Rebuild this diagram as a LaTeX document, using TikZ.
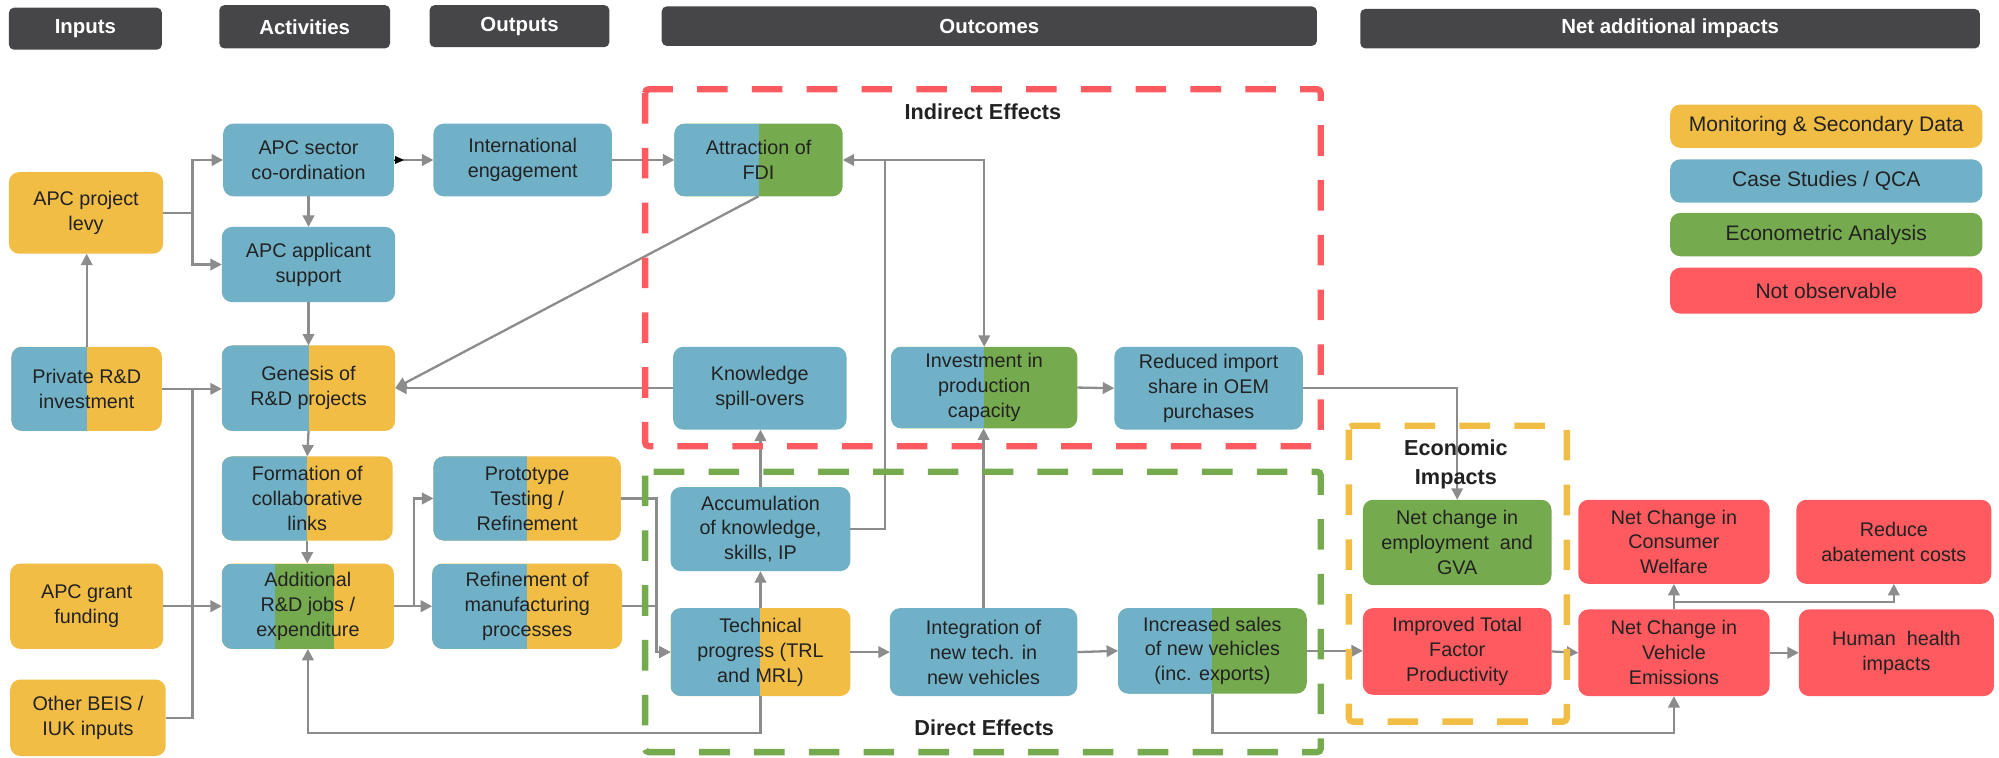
\documentclass[tikz,border=0pt]{standalone}
\usepackage{fontspec}
\setmainfont{Liberation Sans}
\usetikzlibrary{arrows.meta,calc}
\definecolor{cyel}{HTML}{F1BD45}
\definecolor{cblu}{HTML}{71B1C8}
\definecolor{cgrn}{HTML}{75AA4E}
\definecolor{cred}{HTML}{FE5A5F}
\definecolor{cdark}{HTML}{464648}
\definecolor{cline}{HTML}{8C8C8C}
\definecolor{ctext}{HTML}{222222}
\tikzset{
 box/.style={rounded corners=8pt, inner sep=1pt, outer sep=0pt, align=center, text=ctext, font=\fontsize{15.5}{19.5}\selectfont},
 yel/.style={fill=cyel}, blu/.style={fill=cblu}, grn/.style={fill=cgrn}, rd/.style={fill=cred},
 split/.style 2 args={fill=#2, path picture={\fill[#1, sharp corners] (path picture bounding box.south west) rectangle (path picture bounding box.north);}},
 tri/.style={fill=cyel, path picture={
   \fill[cblu, sharp corners] (path picture bounding box.south west) rectangle ($(path picture bounding box.north west)!0.311!(path picture bounding box.north east)$);
   \fill[cgrn, sharp corners] ($(path picture bounding box.south west)!0.311!(path picture bounding box.south east)$) rectangle ($(path picture bounding box.north west)!0.652!(path picture bounding box.north east)$);}},
 lgd/.style={font=\fontsize{16.5}{19.5}\selectfont},
 hdr/.style={fill=cdark, rounded corners=4pt, inner sep=0pt, text=white, font=\fontsize{16}{19}\selectfont\bfseries},
 conn/.style={draw=cline, line width=1.8pt},
 arr/.style={conn, -{Triangle[length=9pt,width=9pt]}},
 dbox/.style={line width=5pt, dash pattern=on 24pt off 19pt, rounded corners=3pt},
 lbl/.style={font=\fontsize{17}{23}\selectfont\bfseries, text=ctext, align=center, inner sep=0pt},
}
\newcommand\placebox[7]{%
 \pgfmathsetmacro\pbw{#4-#2}\pgfmathsetmacro\pbh{#5-#3}%
 \pgfmathsetmacro\pbx{(#2+#4)/2}\pgfmathsetmacro\pby{(#3+#5)/2}%
 \node[box,#6,minimum width=\pbw pt,minimum height=\pbh pt] (#1) at (\pbx,\pby) {#7};}
\newcommand\placehdr[6]{%
 \pgfmathsetmacro\pbw{#4-#2}\pgfmathsetmacro\pbh{#5-#3}%
 \pgfmathsetmacro\pbx{(#2+#4)/2}\pgfmathsetmacro\pby{(#3+#5)/2}%
 \node[hdr,minimum width=\pbw pt,minimum height=\pbh pt] (#1) at (\pbx,\pby) {#6};}
\begin{document}
\begin{tikzpicture}[x=1pt,y=-1pt]
\useasboundingbox (0,0) rectangle (1568,594);
% headers
\placehdr{hin}{7}{6}{127}{39}{Inputs}
\placehdr{hact}{172}{4}{306}{38}{Activities}
\placehdr{hout}{337}{4}{478}{37}{Outputs}
\placehdr{hoc}{519}{5}{1033}{36}{Outcomes}
\placehdr{hnet}{1067}{7}{1553}{38}{Net additional impacts}
% legend
\placebox{lg1}{1310}{82}{1555}{116}{yel,lgd}{Monitoring \& Secondary Data}
\placebox{lg2}{1310}{125}{1555}{159}{blu,lgd}{Case Studies / QCA}
\placebox{lg3}{1310}{167}{1555}{201}{grn,lgd}{Econometric Analysis}
\placebox{lg4}{1310}{210}{1555}{246}{rd,lgd}{Not observable}
% inputs
\placebox{levy}{7}{135}{128}{199}{yel}{APC project\\levy}
\placebox{priv}{9}{272}{127}{338}{split={cblu}{cyel}}{Private R\&D\\investment}
\placebox{grant}{8}{442}{128}{509}{yel}{APC grant\\funding}
\placebox{beis}{8}{533}{130}{593}{yel}{Other BEIS /\\IUK inputs}
% activities
\placebox{sector}{175}{97}{309}{154}{blu}{APC sector\\co-ordination}
\placebox{support}{174}{178}{310}{237}{blu}{APC applicant\\support}
\placebox{gen}{174}{271}{310}{338}{split={cblu}{cyel}}{Genesis of\\R\&D projects}
\placebox{form}{174}{358}{308}{424}{split={cblu}{cyel}}{Formation of\\collaborative\\links}
\placebox{add}{174}{442}{309}{509}{tri}{Additional\\R\&D jobs /\\expenditure}
% outputs
\placebox{intl}{340}{97}{480}{154}{blu}{International\\engagement}
\placebox{proto}{340}{358}{487}{424}{split={cblu}{cyel}}{Prototype\\Testing /\\Refinement}
\placebox{refm}{339}{442}{488}{509}{split={cblu}{cyel}}{Refinement of\\manufacturing\\processes}
% outcomes
\placebox{fdi}{529}{97}{661}{154}{split={cblu}{cgrn}}{Attraction of\\FDI}
\placebox{spill}{528}{272}{664}{337}{blu}{Knowledge\\spill-overs}
\placebox{invest}{699}{272}{845}{336}{split={cblu}{cgrn}}{Investment in\\production\\capacity}
\placebox{reduced}{874}{272}{1022}{337}{blu}{Reduced import\\share in OEM\\purchases}
\placebox{accum}{526}{382}{667}{448}{blu}{Accumulation\\of knowledge,\\skills, IP}
\placebox{tech}{526}{477}{667}{546}{split={cblu}{cyel}}{Technical\\progress (TRL\\and MRL)}
\placebox{integ}{698}{477}{845}{546}{blu}{Integration of\\new tech. in\\new vehicles}
\placebox{sales}{877}{477}{1025}{544}{split={cblu}{cgrn}}{Increased sales\\of new vehicles\\(inc. exports)}
% impacts
\placebox{emp}{1069}{392}{1217}{459}{grn}{Net change in\\employment\ \ and\\GVA}
\placebox{tfp}{1069}{477}{1217}{545}{rd}{Improved Total\\Factor\\Productivity}
\placebox{welfare}{1238}{392}{1388}{458}{rd}{Net Change in\\Consumer\\Welfare}
\placebox{emis}{1238}{478}{1388}{546}{rd}{Net Change in\\Vehicle\\Emissions}
\placebox{abate}{1409}{392}{1562}{458}{rd}{Reduce\\abatement costs}
\placebox{health}{1411}{478}{1564}{546}{rd}{Human\ \ health\\impacts}
% junctions
\coordinate (j1) at (151,0);
\coordinate (j2) at (325,0);
\coordinate (j3) at (515,0);
\coordinate (j4) at (694,0);
\coordinate (j5) at (0,575);
% connectors
\draw[arr] (levy.east) -- (levy.east -| j1) |- (sector.west);
\draw[arr] (levy.east) -- (levy.east -| j1) |- (support.west);
\draw[arr] (priv.north) -- (priv.north |- levy.south);
\draw[arr] (priv.east) -- (priv.east -| gen.west);
\draw[arr] (grant.east) -- (grant.east -| add.west);
\draw[conn] (beis.east) -| (j1 |- priv.east);
\draw[arr] (sector.south) -- (support.north);
\draw[arr] (support.south) -- (gen.north);
\draw[arr] (gen.south) -- (form.north);
\draw[arr] (form.south) -- (form.south |- add.north);
\draw[arr] (sector.east) -- (intl.west);
\draw[black, -{Triangle[length=7pt,width=6pt]}, line width=0.6pt] (sector.east) -- ++(8,0);
\draw[arr] (intl.east) -- (fdi.west);
\draw[arr] (fdi.south) -- (gen.east);
\draw[arr] (spill.west) -- (spill.west -| gen.east);
\draw[arr] (add.east) -- (add.east -| j2) |- (proto.west);
\draw[arr] (add.east) -- (add.east -| refm.west);
\draw[arr] (proto.east) -- (proto.east -| j3) |- (tech.west);
\draw[arr] (refm.east) -- (refm.east -| j3) |- (tech.west);
\draw[arr] (tech.north) -- (accum.south);
\draw[arr] (accum.north) -- (accum.north |- spill.south);
\draw[arr] (accum.east) -- (accum.east -| j4) |- (fdi.east);
\draw[arr] (j4 |- fdi.east) -| (invest.north);
\draw[arr] (tech.east) -- (integ.west);
\draw[arr] (integ.north) -- (integ.north |- invest.south);
\draw[arr] (integ.east) -- (sales.west);
\draw[arr] (invest.east) -- (reduced.west);
\draw[arr] (reduced.east) -| (emp.north);
\draw[arr] (sales.east) -- (sales.east -| tfp.west);
\draw[arr] (sales.south) -- (sales.south |- j5) -| (emis.south);
\draw[arr] (tech.south) -- (tech.south |- j5) -| (add.south);
\draw[arr] (tfp.east) -- (emis.west);
\draw[arr] (emis.east) -- (health.west);
\draw[arr] (emis.north) -- (welfare.south);
\draw[arr] (emis.north) -- ++(0,-6) -| (abate.south);
% dashed groups
\draw[dbox, draw=cred] (506,70) rectangle (1036,350);
\draw[dbox, draw=cgrn] (506,370) rectangle (1036,590);
\draw[dbox, draw=cyel] (1058,334) rectangle (1229,566);
\node[lbl] (lind) at (771,88) {Indirect Effects};
\node[lbl] (ldir) at (772,571) {Direct Effects};
\node[lbl] (leco) at (1142,364) {Economic\\Impacts};
\end{tikzpicture}
\end{document}
